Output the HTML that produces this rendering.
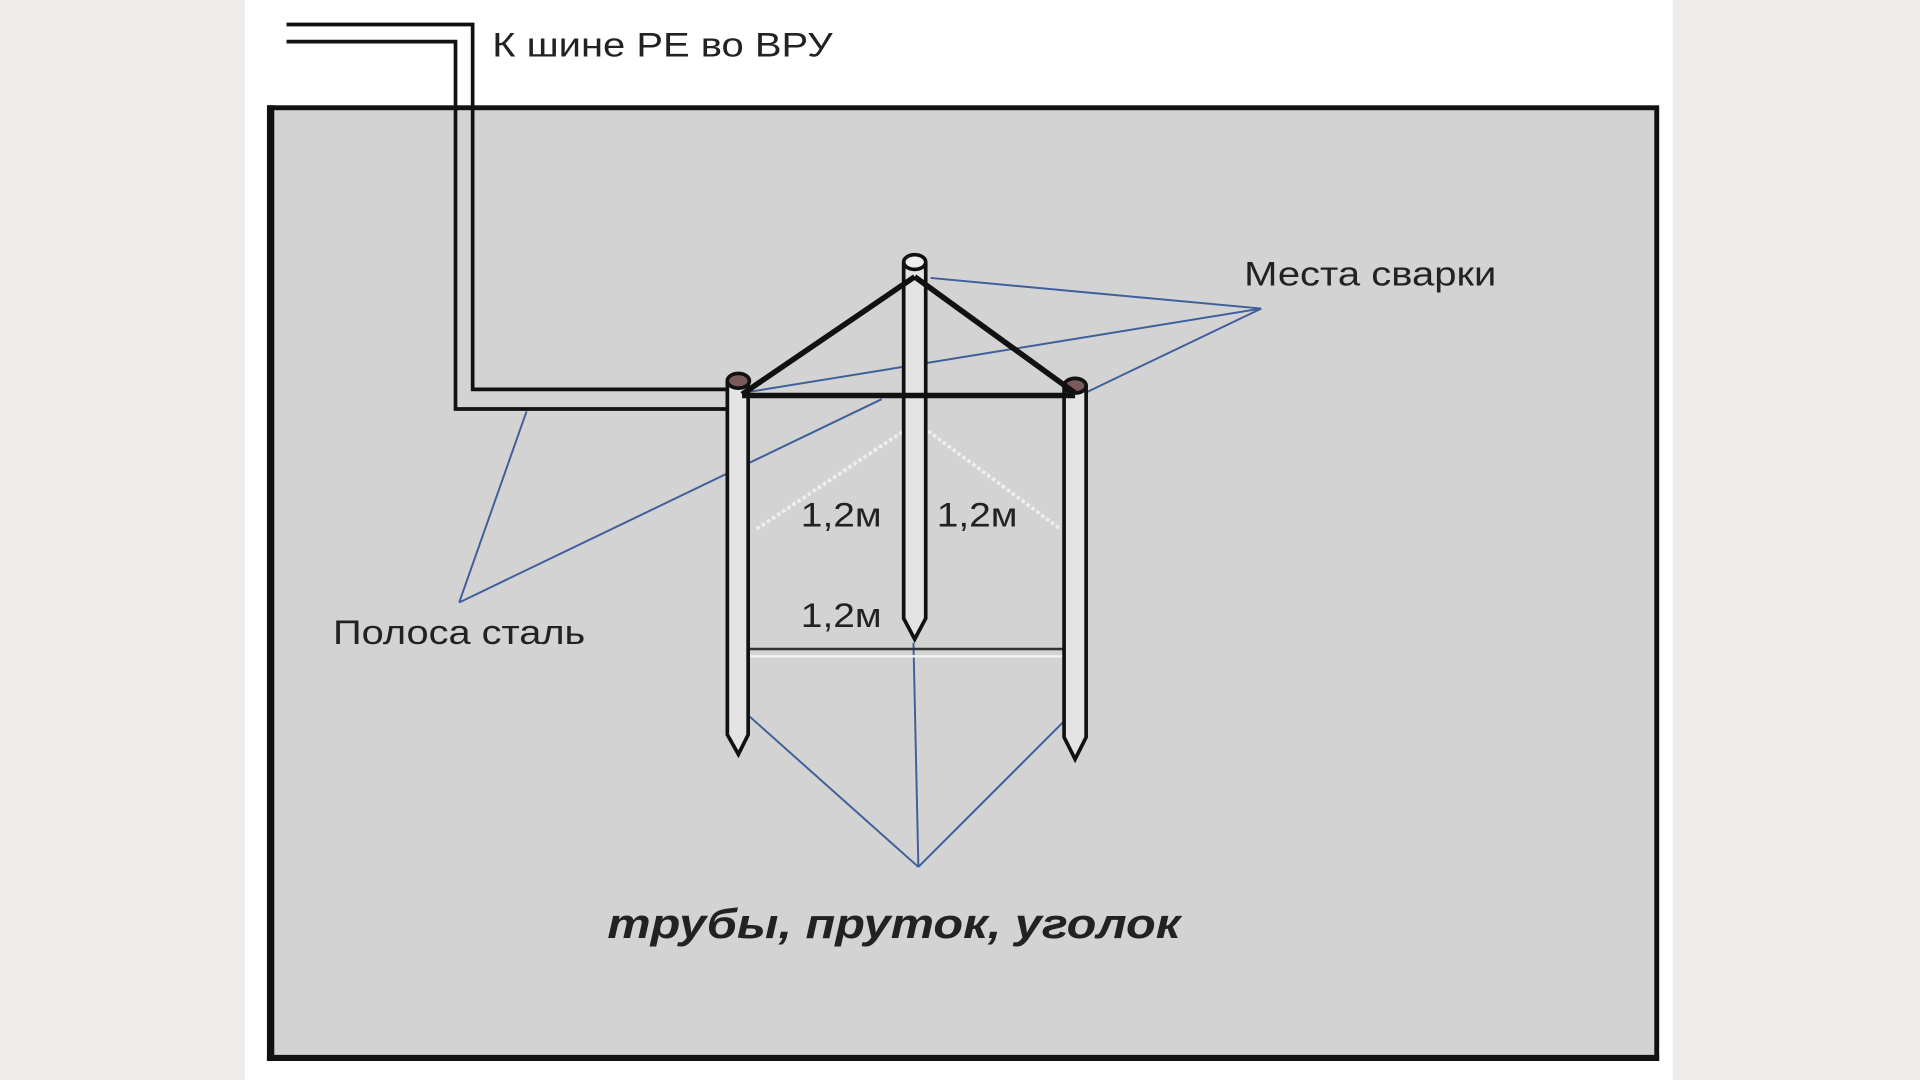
<!DOCTYPE html>
<html><head><meta charset="utf-8"><style>html,body{margin:0;padding:0;background:#eeebe8;}svg{display:block}</style></head>
<body>
<svg width="1920" height="1080" viewBox="0 0 1568 882" xmlns="http://www.w3.org/2000/svg" font-family="Liberation Sans, sans-serif">
<rect width="1568" height="882" fill="#eeebe8"/>
<rect x="200" y="0" width="1166" height="882" fill="#ffffff"/>
<rect x="221" y="88" width="1132" height="776" fill="#d3d3d3" stroke="#111" stroke-width="4"/>
<line x1="221" y1="86" x2="221" y2="866" stroke="#111" stroke-width="6"/>
<line x1="218" y1="864" x2="1355" y2="864" stroke="#111" stroke-width="5"/>
<path d="M234,20 H386 V318 H600" fill="none" stroke="#111" stroke-width="3"/>
<path d="M234,34 H372 V334 H596" fill="none" stroke="#111" stroke-width="3"/>
<rect x="236" y="22" width="148" height="10" fill="#fff"/>
<g stroke="#3f5f9a" stroke-width="1.6" fill="none">
<line x1="1030" y1="252" x2="760" y2="227"/>
<line x1="1030" y1="252" x2="888" y2="320"/>
<line x1="1030" y1="252" x2="612" y2="320"/>
<line x1="375" y1="492" x2="430" y2="336"/>
<line x1="375" y1="492" x2="720" y2="326"/>
<line x1="750" y1="708" x2="612" y2="585"/>
<line x1="750" y1="708" x2="746" y2="525"/>
<line x1="750" y1="708" x2="868" y2="590"/>
</g>
<g stroke="#eee" stroke-width="3" stroke-dasharray="3,2" fill="none">
<line x1="618" y1="432" x2="738" y2="352"/>
<line x1="758" y1="352" x2="866" y2="432"/>
</g>
<line x1="612" y1="530" x2="868" y2="530" stroke="#333" stroke-width="2"/>
<line x1="612" y1="536" x2="868" y2="536" stroke="#f3f3f3" stroke-width="2"/>
<g stroke="#111" stroke-width="3" fill="#e4e4e4">
<path d="M594,312 V600 L603,616 L611,600 V312 Z"/>
<path d="M738,216 V505 L747,522 L756,505 V216 Z"/>
<path d="M869,316 V602 L878,620 L887,602 V316 Z"/>
<ellipse cx="603" cy="311" rx="9" ry="6" fill="#7a5a5a"/>
<ellipse cx="747" cy="214" rx="9" ry="6" fill="#f0f0f0"/>
<ellipse cx="878" cy="315" rx="9" ry="6" fill="#7a5a5a"/>
</g>
<g stroke="#111" stroke-width="4.5" fill="none">
<line x1="606" y1="322" x2="747" y2="226"/>
<line x1="747" y1="226" x2="878" y2="321"/>
<line x1="606" y1="323" x2="878" y2="323"/>
</g>
<g fill="#222" font-size="28">
<text x="402" y="46" textLength="278" lengthAdjust="spacingAndGlyphs">К шине РЕ во ВРУ</text>
<text x="1016" y="233" textLength="206" lengthAdjust="spacingAndGlyphs">Места сварки</text>
<text x="272" y="526" textLength="206" lengthAdjust="spacingAndGlyphs">Полоса сталь</text>
<text x="654" y="430" textLength="66" lengthAdjust="spacingAndGlyphs">1,2м</text>
<text x="765" y="430" textLength="66" lengthAdjust="spacingAndGlyphs">1,2м</text>
<text x="654" y="512" textLength="66" lengthAdjust="spacingAndGlyphs">1,2м</text>
</g>
<text x="496" y="766" fill="#222" font-size="34" font-weight="bold" font-style="italic" textLength="468" lengthAdjust="spacingAndGlyphs">трубы, пруток, уголок</text>
</svg>
</body></html>
